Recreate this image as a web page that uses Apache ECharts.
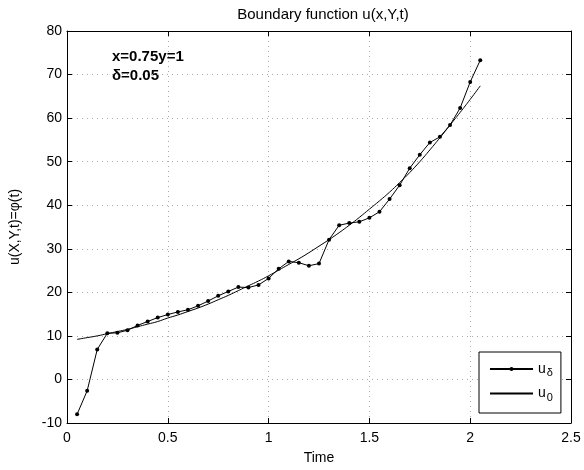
<!DOCTYPE html>
<html>
<head>
<meta charset="utf-8">
<script src="https://cdn.jsdelivr.net/npm/echarts@6/dist/echarts.min.js"></script>
<style>
  html, body { margin: 0; padding: 0; background: #fff; }
  #main { width: 584px; height: 470px; }
</style>
</head>
<body>
<div id="main"></div>
<script>
// 时间点 t = 0.05 ... 2.05
const times = [0.05, 0.10, 0.15, 0.20, 0.25, 0.30, 0.35, 0.40, 0.45, 0.50,
  0.55, 0.60, 0.65, 0.70, 0.75, 0.80, 0.85, 0.90, 0.95, 1.00,
  1.05, 1.10, 1.15, 1.20, 1.25, 1.30, 1.35, 1.40, 1.45, 1.50,
  1.55, 1.60, 1.65, 1.70, 1.75, 1.80, 1.85, 1.90, 1.95, 2.00, 2.05];

// 带噪声的恢复结果 u_delta
const uDelta = [-8.0, -2.6, 6.9, 10.6, 10.7, 11.3, 12.4, 13.3, 14.2, 14.9,
  15.5, 16.0, 16.9, 18.0, 19.2, 20.2, 21.2, 21.1, 21.7, 23.2,
  25.4, 27.1, 26.8, 26.1, 26.6, 32.1, 35.4, 35.9, 36.2, 37.1,
  38.5, 41.4, 44.6, 48.5, 51.6, 54.4, 55.7, 58.4, 62.3, 68.3, 73.3];

// 精确解 u_0
const u0 = [9.2, 9.6, 10.0, 10.5, 11.0, 11.5, 12.1, 12.7, 13.3, 14.1,
  14.8, 15.6, 16.4, 17.3, 18.3, 19.3, 20.4, 21.5, 22.6, 23.8,
  25.1, 26.4, 27.7, 29.1, 30.6, 32.1, 33.7, 35.4, 37.2, 39.1,
  41.0, 43.0, 45.2, 47.5, 50.0, 52.7, 55.5, 58.4, 61.3, 64.3, 67.4];

const xTicks = [0, 0.5, 1, 1.5, 2, 2.5];
const yTicks = [-10, 0, 10, 20, 30, 40, 50, 60, 70, 80];

const font = 'Liberation Sans, Arial, sans-serif';

const axisCommon = {
  type: 'value',
  axisLine: { show: true, onZero: false, lineStyle: { color: '#000', width: 1 } },
  axisTick: { show: true, inside: true, length: 5, lineStyle: { color: '#000' } },
  splitLine: { show: false },
};

const option = {
  animation: false,
  backgroundColor: '#fff',
  title: {
    text: 'Boundary function u(x,Y,t)',
    left: 318, top: 2, textAlign: 'center',
    textStyle: { fontFamily: font, fontSize: 15, fontWeight: 'normal', color: '#000' }
  },
  grid: { left: 66, right: 13, top: 31, bottom: 47 },
  xAxis: [
    Object.assign({}, axisCommon, {
      min: xTicks[0], max: xTicks[xTicks.length - 1], interval: 0.5,
      position: 'bottom',
      name: 'Time', nameLocation: 'middle', nameGap: 28,
      nameTextStyle: { fontFamily: font, fontSize: 14, color: '#000' },
      axisLabel: { fontFamily: font, fontSize: 14, color: '#000', margin: 8 },
      splitLine: { show: true, lineStyle: { color: '#aaa', type: [1, 4], width: 1 } }
    }),
    Object.assign({}, axisCommon, {
      min: xTicks[0], max: xTicks[xTicks.length - 1], interval: 0.5,
      position: 'top', axisLabel: { show: false }
    })
  ],
  yAxis: [
    Object.assign({}, axisCommon, {
      min: yTicks[0], max: yTicks[yTicks.length - 1], interval: 10,
      position: 'left',
      name: 'u(X,Y,t)=\u03c6(t)', nameLocation: 'middle', nameGap: 45, nameRotate: 90,
      nameTextStyle: { fontFamily: font, fontSize: 14, color: '#000' },
      axisLabel: { fontFamily: font, fontSize: 14, color: '#000', margin: 5 },
      splitLine: { show: true, lineStyle: { color: '#aaa', type: [1, 4], width: 1 } }
    }),
    Object.assign({}, axisCommon, {
      min: yTicks[0], max: yTicks[yTicks.length - 1], interval: 10,
      position: 'right', axisLabel: { show: false }
    })
  ],
  legend: {
    orient: 'vertical',
    left: 479, top: 352,
    padding: [10, 8, 10, 10],
    itemGap: 8,
    itemWidth: 43, itemHeight: 5,
    borderColor: '#000', borderWidth: 1,
    backgroundColor: '#fff',
    data: [
      { name: 'ud' },
      { name: 'u0', itemStyle: { opacity: 0 } }
    ],
    formatter: function (name) {
      return name === 'ud' ? '{b|u}{s|\u03b4}' : '{b|u}{s|0}';
    },
    textStyle: {
      color: '#000', fontFamily: font,
      rich: {
        b: { fontSize: 14, fontFamily: font, color: '#000', lineHeight: 18 },
        s: { fontSize: 11, fontFamily: font, color: '#000', padding: [8, 0, 0, 1] }
      }
    }
  },
  graphic: [
    {
      type: 'text', left: 112, top: 49,
      style: { text: 'x=0.75y=1', font: 'bold 15px ' + font, fill: '#000' }
    },
    {
      type: 'text', left: 112, top: 68,
      style: { text: '\u03b4=0.05', font: 'bold 15px ' + font, fill: '#000' }
    }
  ],
  series: [
    {
      name: 'ud', type: 'line',
      data: times.map((t, i) => [t, uDelta[i]]),
      symbol: 'circle', symbolSize: 4,
      itemStyle: { color: '#000' },
      lineStyle: { color: '#000', width: 1 },
    },
    {
      name: 'u0', type: 'line',
      data: times.map((t, i) => [t, u0[i]]),
      symbol: 'none', smooth: true,
      itemStyle: { color: '#000' },
      lineStyle: { color: '#000', width: 1 },
    }
  ]
};

const chart = echarts.init(document.getElementById('main'), null, { renderer: 'canvas' });
chart.setOption(option);
</script>
</body>
</html>
